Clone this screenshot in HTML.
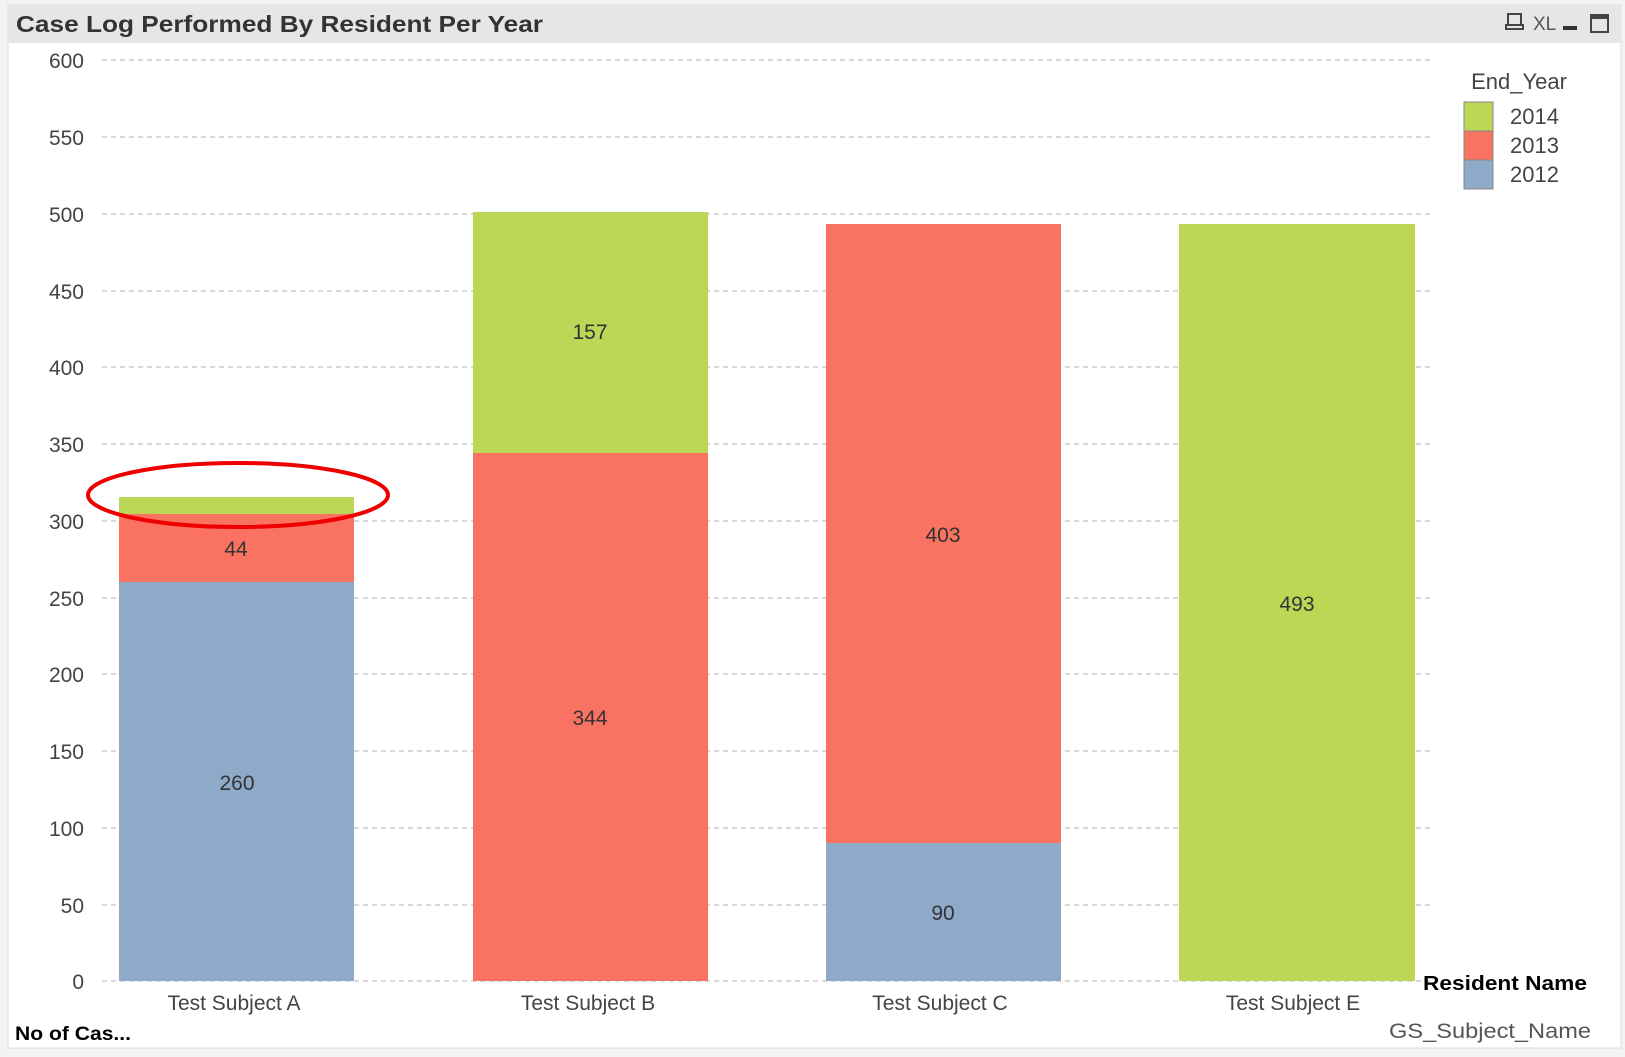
<!DOCTYPE html>
<html><head><meta charset="utf-8"><style>
body{margin:0;background:#f4f4f4;}
svg{display:block;font-family:"Liberation Sans",sans-serif;}
</style></head><body>
<svg width="1625" height="1057" viewBox="0 0 1625 1057">
<rect x="0" y="0" width="1625" height="1057" fill="#f3f3f3"/>
<rect x="8" y="5" width="1613" height="1043" fill="#fff" stroke="#ddd"/>
<rect x="8" y="5" width="1613" height="38" fill="#e6e6e6"/>
<text x="16" y="32" font-size="23" font-weight="bold" fill="#333" textLength="527" lengthAdjust="spacingAndGlyphs">Case Log Performed By Resident Per Year</text>
<g fill="none" stroke="#444" stroke-width="2">
<rect x="1508" y="14" width="13" height="11"/><rect x="1506" y="25" width="17" height="4"/>
<rect x="1591" y="15" width="17" height="17"/>
</g>
<rect x="1591" y="15" width="17" height="4" fill="#444"/>
<text x="1533" y="30" font-size="19" fill="#555">XL</text>
<rect x="1563" y="26" width="14" height="4" fill="#333"/>
<g stroke="#ccc" stroke-width="1.5" stroke-dasharray="5,4">
<line x1="102" y1="60" x2="1430" y2="60"/><line x1="102" y1="137" x2="1430" y2="137"/>
<line x1="102" y1="214" x2="1430" y2="214"/><line x1="102" y1="291" x2="1430" y2="291"/>
<line x1="102" y1="367" x2="1430" y2="367"/><line x1="102" y1="444" x2="1430" y2="444"/>
<line x1="102" y1="521" x2="1430" y2="521"/><line x1="102" y1="598" x2="1430" y2="598"/>
<line x1="102" y1="674" x2="1430" y2="674"/><line x1="102" y1="751" x2="1430" y2="751"/>
<line x1="102" y1="828" x2="1430" y2="828"/><line x1="102" y1="905" x2="1430" y2="905"/>
<line x1="102" y1="981" x2="1430" y2="981"/>
</g>
<g font-size="21" fill="#444" text-anchor="end">
<text x="84" y="68">600</text><text x="84" y="145">550</text><text x="84" y="222">500</text>
<text x="84" y="299">450</text><text x="84" y="375">400</text><text x="84" y="452">350</text>
<text x="84" y="529">300</text><text x="84" y="606">250</text><text x="84" y="682">200</text>
<text x="84" y="759">150</text><text x="84" y="836">100</text><text x="84" y="913">50</text>
<text x="84" y="989">0</text>
</g>
<rect x="119" y="582" width="235" height="399" fill="#8fa9c9"/>
<rect x="119" y="514" width="235" height="68" fill="#fa7262"/>
<rect x="119" y="497" width="235" height="17" fill="#bcd756"/>
<rect x="473" y="453" width="235" height="528" fill="#fa7262"/>
<rect x="473" y="212" width="235" height="241" fill="#bcd756"/>
<rect x="826" y="843" width="235" height="138" fill="#8fa9c9"/>
<rect x="826" y="224" width="235" height="619" fill="#fa7262"/>
<rect x="1179" y="224" width="236" height="757" fill="#bcd756"/>
<g font-size="21" fill="#333" text-anchor="middle">
<text x="237" y="790">260</text><text x="236" y="556">44</text>
<text x="590" y="725">344</text><text x="590" y="339">157</text>
<text x="943" y="920">90</text><text x="943" y="542">403</text>
<text x="1297" y="611">493</text>
</g>
<ellipse cx="238" cy="495" rx="150" ry="32" fill="none" stroke="#e00" stroke-width="4"/>
<g font-size="21" fill="#444" text-anchor="middle">
<text x="234" y="1010">Test Subject A</text><text x="588" y="1010">Test Subject B</text>
<text x="940" y="1010">Test Subject C</text><text x="1293" y="1010">Test  Subject E</text>
</g>
<text x="1423" y="990" font-size="20" font-weight="bold" fill="#000" textLength="164" lengthAdjust="spacingAndGlyphs">Resident Name</text>
<text x="15" y="1040" font-size="19" font-weight="bold" fill="#000" textLength="116" lengthAdjust="spacingAndGlyphs">No of Cas...</text>
<text x="1389" y="1038" font-size="21" fill="#555" textLength="202" lengthAdjust="spacingAndGlyphs">GS_Subject_Name</text>
<text x="1519" y="89" font-size="22" fill="#444" text-anchor="middle">End_Year</text>
<rect x="1464" y="102" width="29" height="29" fill="#bcd756" stroke="#888"/>
<rect x="1464" y="131" width="29" height="29" fill="#fa7262" stroke="#888"/>
<rect x="1464" y="160" width="29" height="29" fill="#8fa9c9" stroke="#888"/>
<g font-size="22" fill="#444">
<text x="1510" y="124">2014</text><text x="1510" y="153">2013</text><text x="1510" y="182">2012</text>
</g>
</svg>
</body></html>
